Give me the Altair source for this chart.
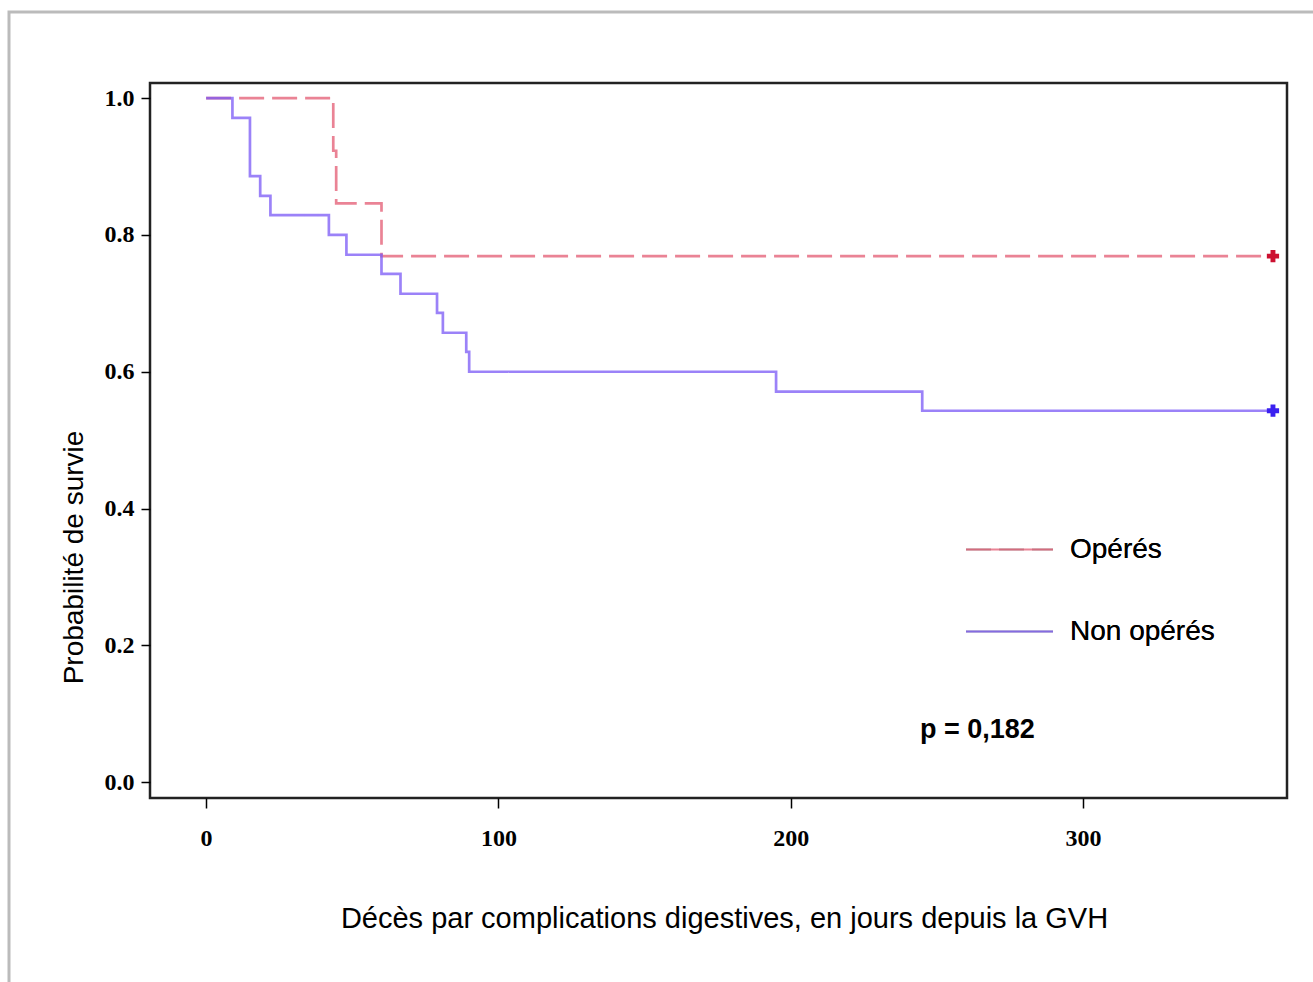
import altair as alt
import pandas as pd

# Kaplan-Meier step data
op_time = [0, 43.5, 44.5, 60, 365]
op_surv = [1.0, 0.923, 0.846, 0.769, 0.769]

nonop_time = [0, 9, 15, 18.5, 22, 42, 48, 60, 66.5, 79, 81, 89, 90, 195, 245, 365]
nonop_surv = [1.0, 0.971, 0.886, 0.857, 0.829, 0.800, 0.771, 0.743, 0.714,
              0.686, 0.657, 0.629, 0.600, 0.571, 0.543, 0.543]

groups = ["Opérés", "Non opérés"]
censor_time = [365, 365]
censor_surv = [0.769, 0.543]

x_ticks = [0, 100, 200, 300]
y_ticks = [0.0, 0.2, 0.4, 0.6, 0.8, 1.0]

rows = []
for t, s in zip(op_time, op_surv):
    rows.append({"t": t, "s": s, "g": groups[0]})
for t, s in zip(nonop_time, nonop_surv):
    rows.append({"t": t, "s": s, "g": groups[1]})
df = pd.DataFrame(rows)
cens = pd.DataFrame({"t": censor_time, "s": censor_surv, "g": groups})

W, H = 1137, 715
xs = alt.Scale(domain=[-19.2, 369.8], nice=False, zero=False)
ys = alt.Scale(domain=[-0.023, 1.022], nice=False, zero=False)

color_scale = alt.Scale(domain=groups, range=["#e35a72", "#7a58f5"])
dash_scale = alt.Scale(domain=groups, range=[[25, 8], [1, 0]])

x_enc = alt.X("t:Q", scale=xs, axis=alt.Axis(
    values=x_ticks, title="Décès par complications digestives, en jours depuis la GVH",
    grid=False, domain=False, tickColor="black", tickWidth=1.5, tickSize=10,
    labelFont="Liberation Serif", labelFontWeight="bold", labelFontSize=24,
    labelColor="black", labelPadding=18,
    titleFont="Liberation Sans", titleFontWeight="normal", titleFontSize=29,
    titleColor="black", titleX=574, titleY=120, titleBaseline="middle",
    titleAnchor="start", titleAlign="center"))
y_enc = alt.Y("s:Q", scale=ys, axis=alt.Axis(
    values=y_ticks, format=".1f", title="Probabilité de survie",
    grid=False, domain=False, tickColor="black", tickWidth=1.5, tickSize=9,
    labelFont="Liberation Serif", labelFontWeight="bold", labelFontSize=24,
    labelColor="black", labelPadding=7,
    titleFont="Liberation Sans", titleFontWeight="normal", titleFontSize=28,
    titleColor="black", titleX=-76, titleY=474, titleAngle=-90,
    titleAlign="center", titleBaseline="middle"))

leg = dict(title=None, orient="none", legendX=815, legendY=422, symbolType="stroke",
           symbolSize=7569, symbolStrokeWidth=2, labelFont="Liberation Sans",
           labelFontSize=28, labelColor="black", labelOffset=16, padding=0,
           rowPadding=23)

lines = alt.Chart(df).mark_line(interpolate="step-after", strokeWidth=2.7, opacity=0.75).encode(
    x=x_enc, y=y_enc,
    color=alt.Color("g:N", scale=color_scale, sort=groups, legend=alt.Legend(**leg)),
    strokeDash=alt.StrokeDash("g:N", scale=dash_scale, sort=groups, legend=alt.Legend(**leg)),
    order=alt.Order("g:N", sort="ascending"),
)

marks = alt.Chart(cens).mark_point(shape="cross", filled=True, size=150, opacity=1).encode(
    x=alt.X("t:Q", scale=xs), y=alt.Y("s:Q", scale=ys),
    color=alt.Color("g:N", scale=alt.Scale(domain=groups, range=["#cc1030", "#3a20f0"]), legend=None),
)

ptext = alt.Chart(pd.DataFrame({"txt": ["p = 0,182"]})).mark_text(
    align="left", baseline="middle", font="Liberation Sans", fontWeight="bold",
    fontSize=27, color="black").encode(
    x=alt.value(770), y=alt.value(647), text="txt:N")

frame = alt.Chart(pd.DataFrame({"k": [0]})).mark_rect(
    fill=None, stroke="#bbbbbb", strokeWidth=3, clip=False).encode(
    x=alt.value(-141), x2=alt.value(1175), y=alt.value(-71), y2=alt.value(930))

chart = alt.layer(frame, lines, marks, ptext).resolve_scale(color="independent").properties(
    width=W, height=H,
    autosize=alt.AutoSizeParams(type="none"),
    padding={"left": 150, "top": 83, "right": 26, "bottom": 184},
    background="white",
).configure_view(stroke="#222222", strokeWidth=2.5)

chart.save("out.html", embed_options={"renderer": "svg", "actions": False})
